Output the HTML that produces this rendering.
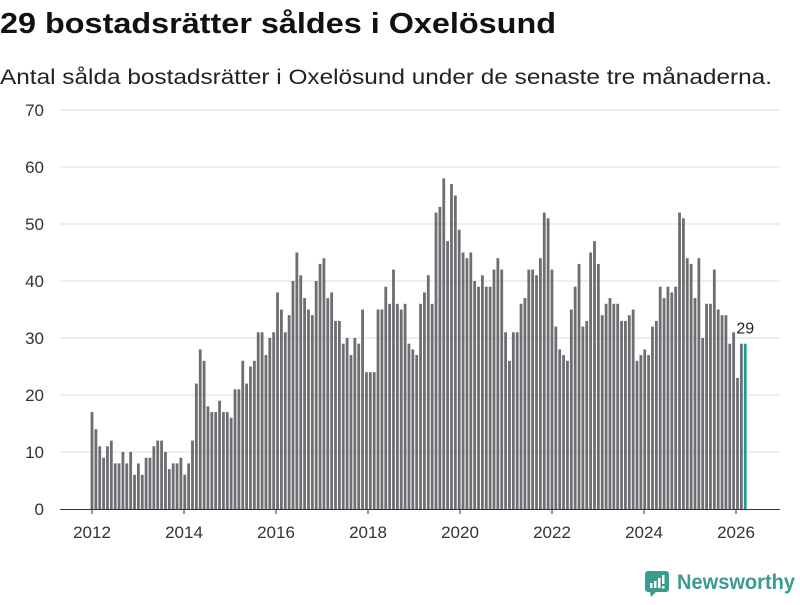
<!DOCTYPE html>
<html><head><meta charset="utf-8"><style>
body{margin:0;width:800px;height:600px;background:#fff;font-family:"Liberation Sans",sans-serif;overflow:hidden}
</style></head><body>
<svg width="800" height="600" xmlns="http://www.w3.org/2000/svg" id="chart">
<text x="0" y="33" font-size="29" font-weight="bold" fill="#111" textLength="556" lengthAdjust="spacingAndGlyphs">29 bostadsrätter såldes i Oxelösund</text>
<text x="0" y="84" font-size="21" fill="#222" textLength="772" lengthAdjust="spacingAndGlyphs">Antal sålda bostadsrätter i Oxelösund under de senaste tre månaderna.</text>
<g id="grid"></g><g id="bars"></g><g id="xaxis"></g>
<g>
<rect x="645" y="571" width="24" height="21" rx="3" fill="#3a9b8f"/>
<polygon points="650,592 656,592 651,597" fill="#3a9b8f"/>
<rect x="650" y="583" width="2.5" height="5" fill="#fff"/><rect x="654" y="581" width="2.5" height="7" fill="#fff"/><rect x="658" y="578" width="2.5" height="10" fill="#fff"/><rect x="662" y="575" width="2.5" height="9" fill="#fff"/><rect x="662" y="586" width="2.5" height="2.5" fill="#fff"/>
<text x="677" y="589" font-size="21" font-weight="bold" fill="#3a9b8f" textLength="118" lengthAdjust="spacingAndGlyphs">Newsworthy</text>
</g>
</svg>
<script>
const startYear = 2012;
const values = [
17,14,11,9,11,12,8,8,10,8,10,6,
8,6,9,9,11,12,12,10,7,8,8,9,
6,8,12,22,28,26,18,17,17,19,17,17,
16,21,21,26,22,25,26,31,31,27,30,31,
38,35,31,34,40,45,41,37,35,34,40,43,
44,37,38,33,33,29,30,27,30,29,35,24,
24,24,35,35,39,36,42,36,35,36,29,28,
27,36,38,41,36,52,53,58,47,57,55,49,
45,44,45,40,39,41,39,39,42,44,42,31,
26,31,31,36,37,42,42,41,44,52,51,42,
32,28,27,26,35,39,43,32,33,45,47,43,
34,36,37,36,36,33,33,34,35,26,27,28,
27,32,33,39,37,39,38,39,52,51,44,43,
37,44,30,36,36,42,35,34,34,29,31,23,
29,29];
const yTicks = [0,10,20,30,40,50,60,70];
const xTicks = [2012,2014,2016,2018,2020,2022,2024,2026];
const NS="http://www.w3.org/2000/svg";
const y = v => 509 - v*(399/70);
const x = t => 92 + (t-2012)*46.1;
function mk(tag, attrs, parent){const e=document.createElementNS(NS,tag);for(const k in attrs)e.setAttribute(k,attrs[k]);parent.appendChild(e);return e;}
const grid=document.getElementById('grid'), bars=document.getElementById('bars'), xa=document.getElementById('xaxis');
yTicks.forEach(v=>{
  if(v>0){const l=mk('line',{x1:60,x2:780,y1:y(v),y2:y(v),stroke:'#ddd','stroke-width':1},grid);
  
  }
  const t=mk('text',{x:44,y:y(v)+6,'text-anchor':'end','font-size':17,fill:'#333'},grid);
  t.textContent=v;
  
  
});
values.forEach((v,i)=>{
  const last=i===values.length-1;
  const cx=x(startYear+i/12)+(i/(values.length-1))*4;
  const r=mk('rect',{x:cx-1.4,y:y(v),width:2.8,height:y(0)-y(v),fill:last?'#1a9e8f':'#6e6d72'},bars);
  
  
  if(last){const t=mk('text',{x:cx,y:y(v)-10,'text-anchor':'middle','font-size':16,fill:'#222'},bars);t.textContent=v;
  
  }
});
const ax=mk('line',{x1:60,x2:780,y1:509.5,y2:509.5,stroke:'#333','stroke-width':1},xa);


xTicks.forEach(yr=>{
  const xx=92+(yr-2012)*46;
  mk('line',{x1:xx,x2:xx,y1:509,y2:514,stroke:'#333'},xa);
  const t=mk('text',{x:xx,y:538,'text-anchor':'middle','font-size':17,fill:'#333'},xa);
  t.textContent=yr;
  
  
});
</script>
</body></html>
